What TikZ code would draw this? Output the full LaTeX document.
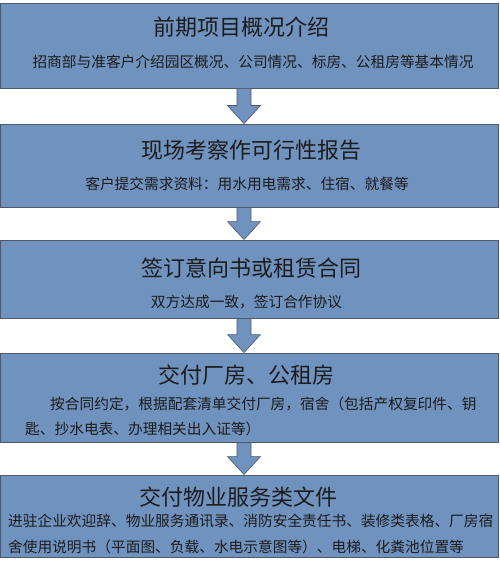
\documentclass[tikz,border=0pt]{standalone}
\usepackage{fontspec}
\setmainfont{Noto Sans CJK SC}
\usetikzlibrary{calc}
\definecolor{stageblue}{HTML}{7092BF}
\definecolor{edgegray}{HTML}{4E5866}
\definecolor{ink}{HTML}{1C1C1C}
\tikzset{
  stagebox/.style={draw=edgegray,fill=stageblue,line width=0.9pt,
                   minimum width=498pt,inner sep=0pt},
  titletext/.style={text=ink,font=\fontsize{22}{26}\selectfont,inner sep=0pt},
  subtext/.style={text=ink,font=\fontsize{14.7}{25.5}\selectfont,inner sep=0pt},
  downblock/.style={draw=edgegray,fill=stageblue,line width=0.6pt}
}
\newcommand{\stagearrow}[2]{%
  \draw[downblock] let \p1=($(#1.south)+(-5,0)$), \p2=($(#2.north)+(-5,0)$) in
    (\x1-7pt,\y1) -- (\x1-7pt,\y2+18pt) -- (\x1-16.5pt,\y2+18pt) -- (\x1,\y2)
    -- (\x1+16.5pt,\y2+18pt) -- (\x1+7pt,\y2+18pt) -- (\x1+7pt,\y1) -- cycle;}

\begin{document}
\begin{tikzpicture}[x=1pt,y=-1pt]
    \path[use as bounding box,fill=white] (0,0) rectangle (500,567);
    % stage boxes
    \node[stagebox,minimum height=85pt] (b1) at (249,45.5) {};
    \node[stagebox,minimum height=83pt] (b2) at (249,165.5) {};
    \node[stagebox,minimum height=78pt] (b3) at (249,279) {};
    \node[stagebox,minimum height=89pt] (b4) at (249,397.5) {};
    \node[stagebox,minimum height=82pt] (b5) at (249,516) {};
    \stagearrow{b1}{b2}
    \stagearrow{b2}{b3}
    \stagearrow{b3}{b4}
    \stagearrow{b4}{b5}

    \node[titletext] (t1) at (241.5,27) {前期项目概况介绍};
    \node[subtext] (s1) at (253,62)
      {招商部与准客户介绍园区概况、公司情况、标房、公租房等基本情况};
    \node[titletext] (t2) at (251,150) {现场考察作可行性报告};
    \node[subtext] (s2) at (247,184)
      {客户提交需求资料：用水用电需求、住宿、就餐等};
    \node[titletext] (t3) at (251,268) {签订意向书或租赁合同};
    \node[subtext] (s3) at (246.5,302) {双方达成一致，签订合作协议};
    \node[titletext] (t4) at (246.5,375) {交付厂房、公租房};
    \node[subtext,text width=460pt,align=left,anchor=west] (s4) at (25,416.5)
      {\hspace*{25pt}按合同约定，根据配套清单交付厂房，宿舍（包括产权复印件、钥\\
       匙、抄水电表、办理相关出入证等）};
    \node[titletext] (t5) at (238,497) {交付物业服务类文件};
    \node[subtext,text width=492pt,align=left,anchor=west] (s5) at (8,534)
      {进驻企业欢迎辞、物业服务通讯录、消防安全责任书、装修类表格、厂房宿\\
       舍使用说明书（平面图、负载、水电示意图等）、电梯、化粪池位置等};
  \end{tikzpicture}
\end{document}
